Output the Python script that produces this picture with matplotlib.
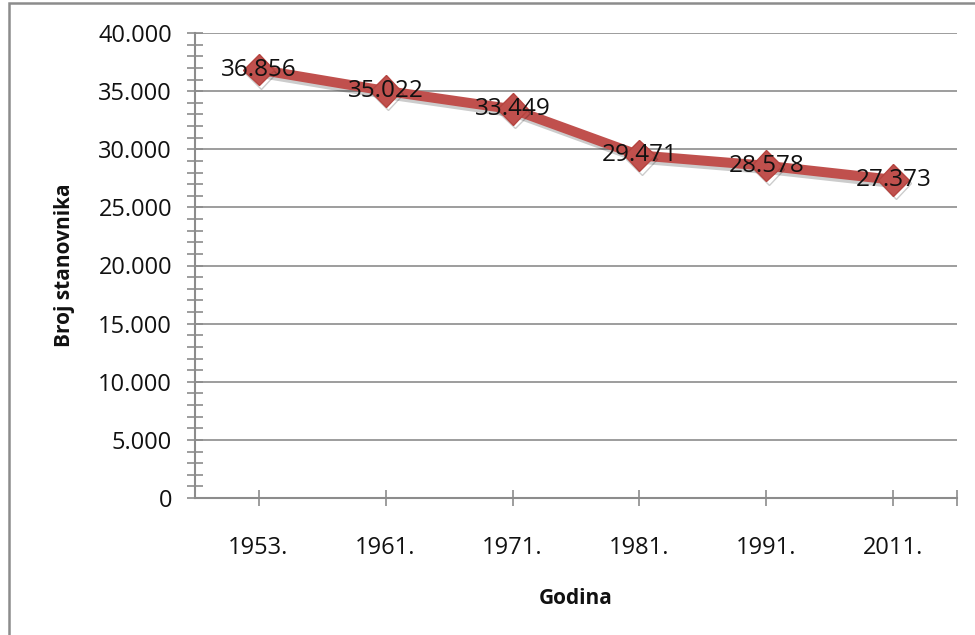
import matplotlib
matplotlib.use("Agg")
import matplotlib.pyplot as plt
from matplotlib.ticker import MultipleLocator, FuncFormatter
from matplotlib.patches import Rectangle
import matplotlib.patheffects as pe

years = ["1953.", "1961.", "1971.", "1981.", "1991.", "2011."]
population = [36856, 35022, 33449, 29471, 28578, 27373]
y_ticks = [0, 5000, 10000, 15000, 20000, 25000, 30000, 35000, 40000]
x_title = "Godina"
y_title = "Broj stanovnika"

plt.rcParams['font.family'] = ['Open Sans', 'DejaVu Sans']

def fmt(v):
    return f"{int(v):,}".replace(",", ".")

fig = plt.figure(figsize=(9.75, 6.35), dpi=100)
ax = fig.add_axes([195/975, 1-498/635, (957-195)/975, (498-33)/635])

# outer frame
fig.patches.append(Rectangle((9/975, -0.1), 1.2, 1.1 - 3/635, transform=fig.transFigure,
                             fill=False, edgecolor='#8c8c8c', linewidth=1.8, zorder=0))

grid_c = '#8c8c8c'
for t in y_ticks[1:]:
    ax.axhline(t, color=grid_c, linewidth=1.2, zorder=1)

x = list(range(len(years)))
ax.plot(x, population, color='#C0504D', linewidth=7.2, marker='D', markersize=16,
        markerfacecolor='#C0504D', markeredgecolor='#B5443F', markeredgewidth=1,
        solid_joinstyle='round', zorder=3,
        path_effects=[pe.SimpleLineShadow(offset=(1.5, -2.5), alpha=0.2, shadow_color='k'), pe.Normal()])

for xi, v in zip(x, population):
    ax.text(xi, v, fmt(v), ha='center', va='center', fontsize=17.5, color='#111111', zorder=4)

ax.set_xlim(-0.5, 5.5)
ax.set_ylim(0, 40000)
ax.set_yticks(y_ticks)
ax.yaxis.set_major_formatter(FuncFormatter(lambda v, p: fmt(v)))
ax.yaxis.set_minor_locator(MultipleLocator(1000))
ax.set_xticks(x)
ax.set_xticklabels(years)
ax.set_xticks([5.5], minor=True)

for s in ['top', 'right']:
    ax.spines[s].set_visible(False)
for s in ['left', 'bottom']:
    ax.spines[s].set_color(grid_c)
    ax.spines[s].set_linewidth(1.5)

ax.tick_params(axis='both', which='both', direction='inout', color=grid_c, width=1.2, length=11,
               labelsize=17, labelcolor='#111111')
ax.tick_params(axis='y', which='major', pad=11)
ax.tick_params(axis='x', which='major', pad=22)

ax.set_xlabel(x_title, fontsize=15, fontweight='bold', labelpad=20, color='#111111')
ax.set_ylabel(y_title, fontsize=15, fontweight='bold', labelpad=17, color='#111111')

fig.savefig("out.png", dpi=100)
